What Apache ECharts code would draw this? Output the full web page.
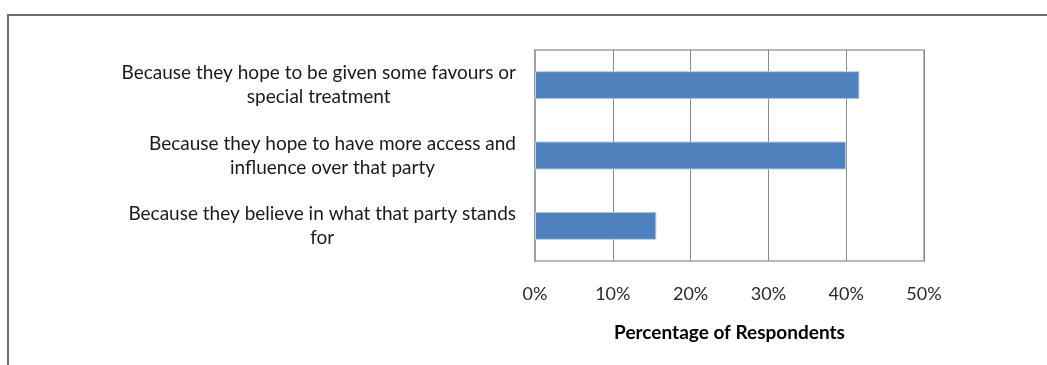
<!DOCTYPE html>
<html>
<head>
<meta charset="utf-8">
<script src="https://cdn.jsdelivr.net/npm/echarts@6/dist/echarts.min.js"></script>
<style>
html,body{margin:0;padding:0;background:#fff;}
#chart{width:1047px;height:365px;}
</style>
</head>
<body>
<div id="chart"></div>
<script>
// Categories (bottom to top in the chart)
const categories = [
  "Because they believe in what that party stands\nfor",
  "Because they hope to have more access and\ninfluence over that party",
  "Because they hope to be given some favours or\nspecial treatment"
];
const values = [15.6, 40.0, 41.7];
const xTicks = [0, 10, 20, 30, 40, 50];
const xAxisTitle = "Percentage of Respondents";

const chart = echarts.init(document.getElementById('chart'), null, {renderer: 'canvas'});
const font = 'Lato, "Open Sans", sans-serif';

chart.setOption({
  animation: false,
  backgroundColor: '#ffffff',
  graphic: [{
    type: 'rect',
    silent: true,
    shape: {x: 8, y: 15, width: 1200, height: 500},
    style: {fill: 'none', stroke: '#6f6f6f', lineWidth: 2}
  }],
  grid: {
    left: 535, right: 123, top: 50, bottom: 104,
    show: true, borderColor: '#b8b8b8', borderWidth: 2, backgroundColor: 'transparent'
  },
  xAxis: {
    type: 'value',
    min: xTicks[0], max: xTicks[xTicks.length - 1], interval: 10,
    axisLine: {show: false},
    axisTick: {show: false},
    splitLine: {show: true, lineStyle: {color: '#8a8a8a', width: 1}},
    axisLabel: {
      formatter: v => v + '%',
      color: '#2a2a2a', fontFamily: font, fontSize: 18, margin: 24
    },
    name: xAxisTitle,
    nameLocation: 'middle',
    nameGap: 62,
    nameTextStyle: {color: '#000', fontFamily: font, fontSize: 19, fontWeight: 'bold'}
  },
  yAxis: {
    type: 'category',
    data: categories,
    axisLine: {show: true, lineStyle: {color: '#a0a0a0', width: 2}},
    axisTick: {show: false},
    splitLine: {show: false},
    axisLabel: {
      margin: 19,
      align: 'right',
      color: '#1a1a1a',
      fontFamily: font,
      fontSize: 19,
      lineHeight: 24,
      formatter: v => v.split('\n').map(l => '{c|' + l + '}').join('\n'),
      rich: {c: {align: 'center', fontFamily: font, fontSize: 19, lineHeight: 24, color: '#1a1a1a'}}
    }
  },
  series: [{
    type: 'bar',
    data: values,
    barWidth: 28,
    itemStyle: {color: '#4f81bd', borderColor: '#b9cde5', borderWidth: 1},
    silent: true
  }]
});
</script>
</body>
</html>
